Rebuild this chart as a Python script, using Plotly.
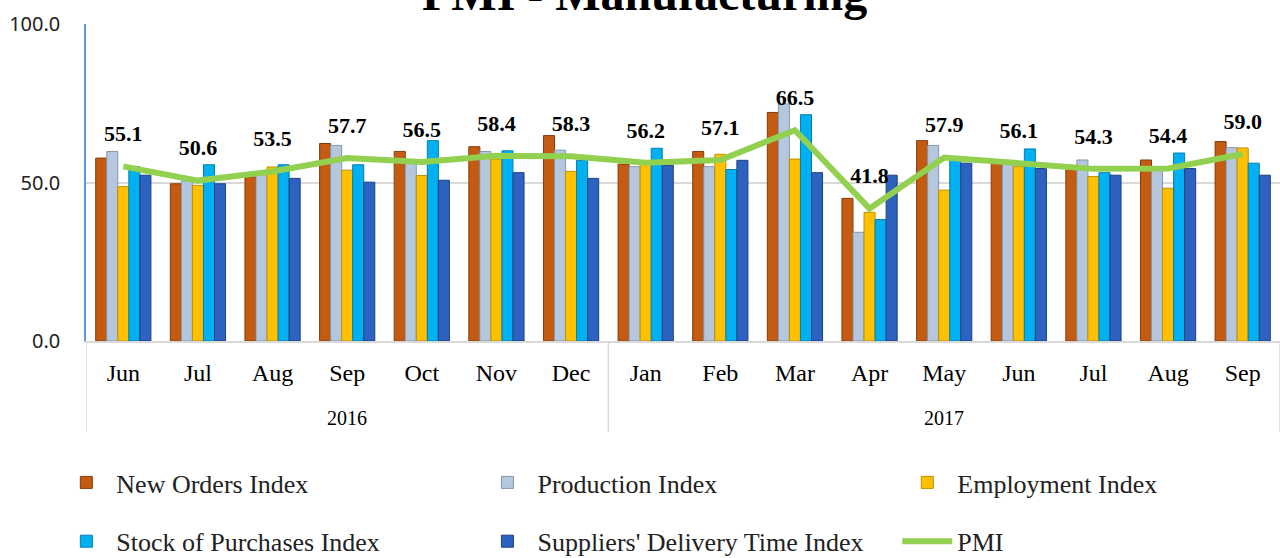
import plotly.graph_objects as go

years = ["2016"] * 7 + ["2017"] * 9
months = ["Jun", "Jul", "Aug", "Sep", "Oct", "Nov", "Dec",
          "Jan", "Feb", "Mar", "Apr", "May", "Jun", "Jul", "Aug", "Sep"]

new_orders = [57.7, 49.6, 51.8, 62.3, 59.8, 61.3, 64.8, 55.8, 59.8, 72.1, 45.0, 63.2, 56.3, 54.6, 57.1, 62.9]
production = [59.8, 50.5, 53.0, 61.7, 57.0, 59.8, 60.2, 55.0, 55.0, 74.8, 34.3, 61.7, 56.0, 57.1, 55.0, 61.0]
employment = [48.7, 49.1, 54.9, 53.9, 52.2, 57.4, 53.5, 56.0, 58.9, 57.4, 40.6, 47.6, 55.0, 51.9, 48.2, 60.9]
stock = [55.0, 55.6, 55.6, 55.6, 63.2, 60.0, 57.0, 60.8, 54.1, 71.4, 38.3, 57.0, 60.6, 53.1, 59.3, 56.1]
supplier = [52.3, 49.6, 51.3, 50.1, 50.7, 53.1, 51.3, 55.5, 57.0, 53.1, 52.3, 56.1, 54.4, 52.3, 54.4, 52.3]
pmi = [55.1, 50.6, 53.5, 57.7, 56.5, 58.4, 58.3, 56.2, 57.1, 66.5, 41.8, 57.9, 56.1, 54.3, 54.4, 59.0]

idx = list(range(len(months)))

bar_series = [
    ("New Orders Index", new_orders, "#C55A11", "#843C0C", "legend"),
    ("Production Index", production, "#B4C7DC", "#8497B0", "legend2"),
    ("Employment Index", employment, "#FFC000", "#BF9000", "legend3"),
    ("Stock of Purchases Index", stock, "#00B0F0", "#0080B0", "legend"),
    ("Suppliers' Delivery Time Index", supplier, "#2E62C0", "#1F3F7F", "legend2"),
]

serif = "Liberation Serif"
fig = go.Figure()
for name, vals, col, edge, lg in bar_series:
    fig.add_trace(go.Bar(x=idx, y=vals, name=name, legend=lg, legendgroup=name,
                         marker=dict(color=col, line=dict(color=edge, width=1))))

fig.add_trace(go.Scatter(
    x=idx, y=pmi, name="PMI", legend="legend3", legendgroup="PMI",
    mode="lines+markers+text",
    line=dict(color="#92D050", width=6),
    marker=dict(size=30, color="rgba(0,0,0,0)"),
    text=[f"{v:.1f}" for v in pmi], textposition="top center",
    textfont=dict(family=serif, size=22, color="black", weight="bold"),
))

# year labels and dividers derived from the year list
year_names = []
for y in years:
    if y not in year_names:
        year_names.append(y)
annotations = []
shapes = []
bounds = [-0.5]
for yn in year_names:
    pos = [i for i, y in enumerate(years) if y == yn]
    annotations.append(dict(text=yn, x=sum(pos) / len(pos), xref="x", y=-0.243, yref="paper",
                            yanchor="middle", showarrow=False,
                            font=dict(family=serif, size=20, color="black")))
    bounds.append(max(pos) + 0.5)
for b in bounds:
    shapes.append(dict(type="line", xref="x", yref="paper", x0=b, x1=b, y0=0, y1=-0.287,
                       line=dict(color="#D9D9D9", width=1.5)))

annotations.append(dict(text="<b>PMI - Manufacturing</b>", x=0.468, xref="paper", y=1, yref="paper",
                        yanchor="bottom", yshift=2, showarrow=False,
                        font=dict(family=serif, size=48, color="black")))

leg_common = dict(orientation="v", xref="container", yref="container",
                  xanchor="left", yanchor="top",
                  font=dict(family=serif, size=26, color="#222"), bgcolor="rgba(0,0,0,0)",
                  tracegroupgap=22, itemwidth=50)

leg_top = 1 - 459 / 558
fig.update_layout(
    width=1280, height=558,
    margin=dict(l=86, r=0, t=24, b=217, autoexpand=False),
    plot_bgcolor="white", paper_bgcolor="white",
    barmode="group", bargap=0.26, bargroupgap=0,
    font=dict(family=serif, color="black"),
    showlegend=True,
    legend=dict(x=0.044, y=leg_top, **leg_common),
    legend2=dict(x=0.373, y=leg_top, **leg_common),
    legend3=dict(x=0.701, y=leg_top, **leg_common),
    annotations=annotations,
    shapes=shapes,
)
fig.update_yaxes(range=[0, 100], tickvals=[0, 50, 100], tickformat=".1f",
                 showgrid=True, gridcolor="#D9D9D9", gridwidth=2,
                 showline=True, linecolor="#5B9BD5", linewidth=1.5,
                 zeroline=False, tickfont=dict(family="Noto Sans", size=20, color="#222"),
                 ticks="", ticklabelstandoff=20, automargin=False)
fig.update_xaxes(range=[-0.5, len(months) - 0.5], tickvals=idx, ticktext=months,
                 tickfont=dict(family=serif, size=24), showline=True, linecolor="#D9D9D9",
                 linewidth=2, showgrid=False, zeroline=False, ticks="",
                 ticklabelstandoff=9, automargin=False)

fig.write_html("out.html", post_script="document.body.style.margin='0';",
               config={"displayModeBar": False})
